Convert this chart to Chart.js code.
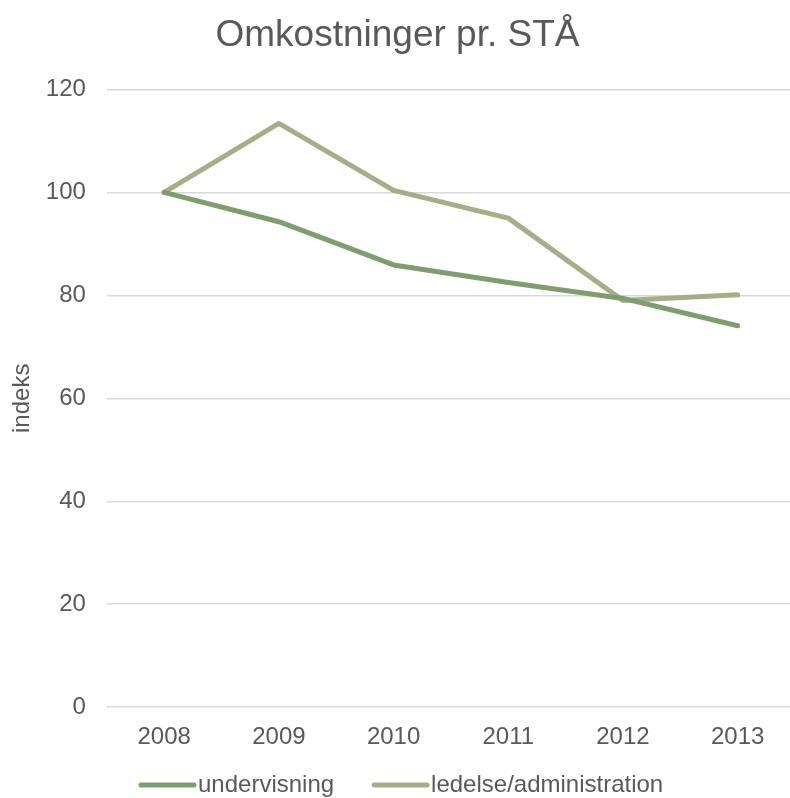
<!DOCTYPE html>
<html>
<head>
<meta charset="utf-8">
<script src="https://cdn.jsdelivr.net/npm/chart.js@4.4.1/dist/chart.umd.min.js"></script>
<style>
  html, body { margin: 0; padding: 0; background: #fff; overflow: hidden; }
  #wrap { width: 795px; height: 798px; }
</style>
</head>
<body>
<div id="wrap"><canvas id="chart"></canvas></div>
<script>
const years = ['2008', '2009', '2010', '2011', '2012', '2013'];
const undervisning = [100, 94.3, 85.9, 82.5, 79.4, 74.1];
const ledelse = [100, 113.4, 100.4, 95.0, 79.0, 80.1];

const TXT = '#595959';
const FONT = '"Liberation Sans", Arial, sans-serif';

// legend drawn by hand so the line sits tight against its label, like the original
const bottomLegend = {
  id: 'bottomLegend',
  afterDraw(chart) {
    const ctx = chart.ctx;
    const y = 785;
    let x = 141;
    ctx.save();
    ctx.font = '24px ' + FONT;
    ctx.textBaseline = 'middle';
    ctx.lineCap = 'round';
    chart.data.datasets.forEach(ds => {
      ctx.strokeStyle = ds.borderColor;
      ctx.lineWidth = 5;
      ctx.beginPath();
      ctx.moveTo(x, y);
      ctx.lineTo(x + 53, y);
      ctx.stroke();
      x += 57;
      ctx.fillStyle = TXT;
      ctx.fillText(ds.label, x, y);
      x += ctx.measureText(ds.label).width + 40;
    });
    ctx.restore();
  }
};

new Chart(document.getElementById('chart'), {
  type: 'line',
  data: {
    labels: years,
    datasets: [
      {
        label: 'undervisning',
        data: undervisning,
        borderColor: '#7f9e6e',
        backgroundColor: '#7f9e6e',
        borderWidth: 5,
        pointRadius: 0,
        tension: 0,
        borderCapStyle: 'round',
        borderJoinStyle: 'round'
      },
      {
        label: 'ledelse/administration',
        data: ledelse,
        borderColor: '#a6ae88',
        backgroundColor: '#a6ae88',
        borderWidth: 5,
        pointRadius: 0,
        tension: 0,
        borderCapStyle: 'round',
        borderJoinStyle: 'round'
      }
    ]
  },
  options: {
    responsive: true,
    maintainAspectRatio: false,
    animation: false,
    layout: { padding: { left: 0, right: 0, top: 14, bottom: 30 } },
    plugins: {
      title: {
        display: true,
        text: 'Omkostninger pr. STÅ',
        color: TXT,
        font: { family: FONT, size: 37, weight: 'normal' },
        padding: { top: 0, bottom: 31 }
      },
      legend: { display: false },
      tooltip: { enabled: false }
    },
    scales: {
      x: {
        offset: true,
        grid: { display: false, drawTicks: false },
        border: { display: false },
        ticks: { color: TXT, font: { family: FONT, size: 24 }, padding: 16, maxRotation: 0 }
      },
      y: {
        min: 0,
        max: 120,
        grid: { color: '#d9d9d9', lineWidth: 1.5, drawTicks: false },
        border: { display: false },
        ticks: { stepSize: 20, color: TXT, font: { family: FONT, size: 24 }, padding: 21 },
        title: {
          display: true,
          text: 'indeks',
          color: TXT,
          font: { family: FONT, size: 24 },
          padding: { top: 8, bottom: -12 }
        }
      }
    }
  },
  plugins: [bottomLegend]
});
</script>
</body>
</html>
